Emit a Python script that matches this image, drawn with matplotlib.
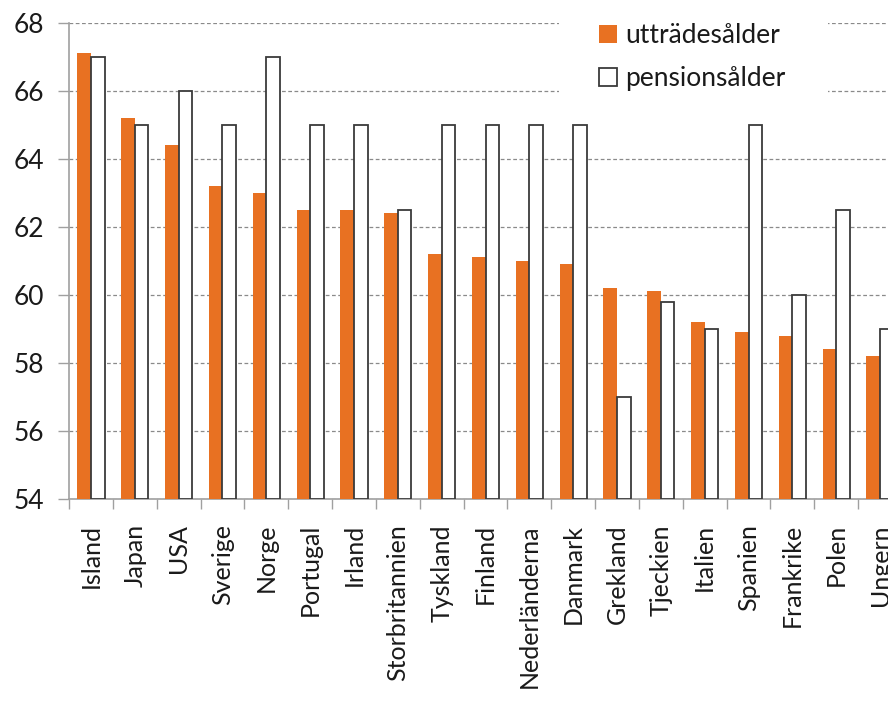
import matplotlib
matplotlib.use("Agg")
import matplotlib.pyplot as plt
from matplotlib.patches import Rectangle
import numpy as np

countries = ["Island", "Japan", "USA", "Sverige", "Norge", "Portugal", "Irland",
             "Storbritannien", "Tyskland", "Finland", "Nederländerna", "Danmark",
             "Grekland", "Tjeckien", "Italien", "Spanien", "Frankrike", "Polen", "Ungern"]
uttradesalder = [67.1, 65.2, 64.4, 63.2, 63.0, 62.5, 62.5, 62.4, 61.2, 61.1, 61.0, 60.9,
                 60.2, 60.1, 59.2, 58.9, 58.8, 58.4, 58.2]
pensionsalder = [67.0, 65.0, 66.0, 65.0, 67.0, 65.0, 65.0, 62.5, 65.0, 65.0, 65.0, 65.0,
                 57.0, 59.8, 59.0, 65.0, 60.0, 62.5, 59.0]
yticks = [54, 56, 58, 60, 62, 64, 66, 68]
labels = ["utträdesålder", "pensionsålder"]

plt.rcParams['font.family'] = ['Lato', 'DejaVu Sans']
FS = 19
W, H = 888, 702
fig = plt.figure(figsize=(W / 100, H / 100), dpi=100)
ax = fig.add_axes([69 / W, (H - 499) / H, (902 - 69) / W, (499 - 22.5) / H])

x = np.arange(len(countries))
bw = 0.31
orange = "#E87122"
ax.bar(x - bw / 2, [v - 54 for v in uttradesalder], bw, bottom=54, color=orange,
       edgecolor="none", label=labels[0], zorder=3)
ax.bar(x + bw / 2, [v - 54 for v in pensionsalder], bw, bottom=54, color="white",
       edgecolor="#3a3a3a", linewidth=1.3, label=labels[1], zorder=3)

ax.set_xlim(-0.5, len(countries) - 0.5)
ax.set_ylim(54, 68)
ax.set_yticks(yticks)
ax.yaxis.grid(True, linestyle=(0, (3, 2)), color="#8a8a8a", linewidth=0.9, zorder=0)
ax.set_axisbelow(True)

ax.set_xticks(x)
ax.set_xticklabels(countries, rotation=90, va="top", ha="center", fontsize=18, color="#1a1a1a")
ax.set_xticks(np.arange(-0.5, len(countries), 1.0), minor=True)
ax.tick_params(axis="x", which="major", length=0, pad=18)
ax.tick_params(axis="x", which="minor", length=7.5, width=1, color="#a0a0a0", direction="out")
ax.tick_params(axis="y", length=8, width=1, color="#a0a0a0", labelsize=FS, pad=10,
               labelcolor="#1a1a1a")

for s in ["top", "right"]:
    ax.spines[s].set_visible(False)
for s in ["left", "bottom"]:
    ax.spines[s].set_color("#a0a0a0")
    ax.spines[s].set_linewidth(1.2)

# white background of the legend area (hides gridlines like the original)
ax.add_patch(Rectangle((559 / W, 1 - 112 / H), (828 - 559) / W, 112 / H,
                       transform=fig.transFigure, facecolor="white", edgecolor="none",
                       zorder=2, clip_on=False))

leg = fig.legend(loc="upper left", bbox_to_anchor=(599 / W, 1 - 23 / H),
                 fontsize=FS, frameon=False, borderpad=0, borderaxespad=0,
                 handlelength=0.68, handleheight=0.68, handletextpad=0.3,
                 labelspacing=0.68)
for t in leg.get_texts():
    t.set_color("#1a1a1a")

fig.savefig("out.png", dpi=100)
